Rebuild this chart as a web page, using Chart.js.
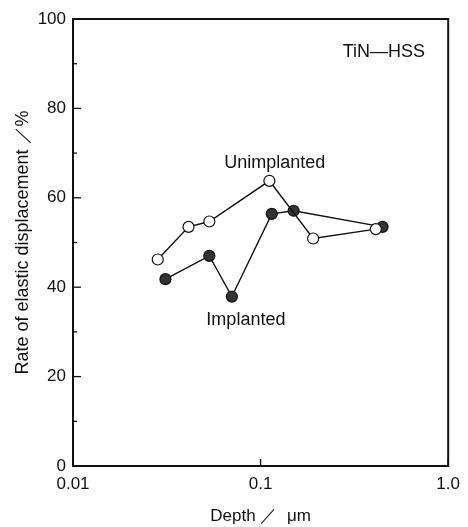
<!DOCTYPE html>
<html>
<head>
<meta charset="utf-8">
<script src="https://cdn.jsdelivr.net/npm/chart.js@4/dist/chart.umd.min.js"></script>
<style>
html,body{margin:0;padding:0;background:#fff;}
#wrap{width:468px;height:527px;}
</style>
</head>
<body>
<div id="wrap"><canvas id="c" width="468" height="527"></canvas></div>
<script>
// Data
const unimplDepth = [0.0283, 0.0413, 0.0533, 0.1114, 0.1906, 0.4115];
const unimplRate  = [46.2, 53.5, 54.7, 63.8, 50.9, 53.0];
const implDepth   = [0.0311, 0.0533, 0.0703, 0.1147, 0.150, 0.4467];
const implRate    = [41.8, 47.0, 37.9, 56.4, 57.1, 53.5];
const xTickValues = [0.01, 0.1, 1.0];
const xTickLabels = ['0.01', '0.1', '1.0'];
const yTickValues = [0, 20, 40, 60, 80, 100];

const FONT = '"Liberation Sans", Arial, sans-serif';

const framePlugin = {
  id: 'frame',
  afterDraw(chart) {
    const {ctx, chartArea: a, scales: {x, y}} = chart;
    ctx.save();
    ctx.strokeStyle = '#111';
    ctx.lineWidth = 2;
    ctx.strokeRect(a.left, a.top, a.right - a.left, a.bottom - a.top);
    ctx.lineWidth = 1.3;
    for (let v = 0; v <= 100; v += 10) {
      const py = y.getPixelForValue(v);
      const len = (v % 20 === 0) ? 8 : 4;
      ctx.beginPath();
      ctx.moveTo(a.left, py);
      ctx.lineTo(a.left + len, py);
      ctx.stroke();
    }
    xTickValues.forEach(v => {
      const px = x.getPixelForValue(v);
      ctx.beginPath();
      ctx.moveTo(px, a.bottom);
      ctx.lineTo(px, a.bottom - 7);
      ctx.stroke();
    });
    ctx.fillStyle = '#111';
    ctx.font = '18px ' + FONT;
    ctx.textAlign = 'left';
    ctx.textBaseline = 'alphabetic';
    ctx.fillText('Unimplanted', x.getPixelForValue(0.0640), y.getPixelForValue(66.7));
    ctx.fillText('Implanted', x.getPixelForValue(0.0514), y.getPixelForValue(31.5));
    ctx.fillText('TiN\u2014HSS', x.getPixelForValue(0.274), y.getPixelForValue(91.5));
    ctx.restore();
  }
};

const toPts = (xs, ys) => xs.map((v, i) => ({x: v, y: ys[i]}));

new Chart(document.getElementById('c'), {
  type: 'line',
  data: {
    datasets: [
      {
        label: 'Unimplanted',
        data: toPts(unimplDepth, unimplRate),
        borderColor: '#111',
        borderWidth: 1.4,
        backgroundColor: '#fff',
        pointBackgroundColor: '#fff',
        pointBorderColor: '#111',
        pointBorderWidth: 1.2,
        pointRadius: 5.5,
        tension: 0
      },
      {
        label: 'Implanted',
        data: toPts(implDepth, implRate),
        borderColor: '#111',
        borderWidth: 1.4,
        backgroundColor: '#333',
        pointBackgroundColor: '#333',
        pointBorderColor: '#111',
        pointBorderWidth: 1.2,
        pointRadius: 5.5,
        tension: 0
      }
    ]
  },
  options: {
    responsive: false,
    animation: false,
    layout: {padding: {left: 0, right: 18, top: 19, bottom: 0}},
    plugins: {legend: {display: false}, tooltip: {enabled: false}},
    scales: {
      x: {
        type: 'logarithmic',
        min: 0.01,
        max: 1,
        afterBuildTicks(s) { s.ticks = xTickValues.map(v => ({value: v})); },
        afterFit(s) { s.height = 61; },
        grid: {display: false, drawTicks: false},
        border: {display: false},
        ticks: {
          autoSkip: false,
          maxRotation: 0,
          padding: 8,
          color: '#111',
          font: {family: FONT, size: 17},
          callback(v) { const i = xTickValues.indexOf(v); return i >= 0 ? xTickLabels[i] : ''; }
        },
        title: {
          display: true,
          text: 'Depth \uFF0F  \u03BCm',
          color: '#111',
          font: {family: FONT, size: 17},
          padding: {top: 1, bottom: 0}
        }
      },
      y: {
        min: 0,
        max: 100,
        afterBuildTicks(s) { s.ticks = yTickValues.map(v => ({value: v})); },
        afterFit(s) { s.width = 73; },
        grid: {display: false, drawTicks: false},
        border: {display: false},
        ticks: {
          padding: 7,
          color: '#111',
          font: {family: FONT, size: 17}
        },
        title: {
          display: true,
          text: 'Rate of elastic displacement \uFF0F%',
          color: '#111',
          font: {family: FONT, size: 18},
          padding: {top: 12, bottom: 4}
        }
      }
    }
  },
  plugins: [framePlugin]
});
</script>
</body>
</html>
